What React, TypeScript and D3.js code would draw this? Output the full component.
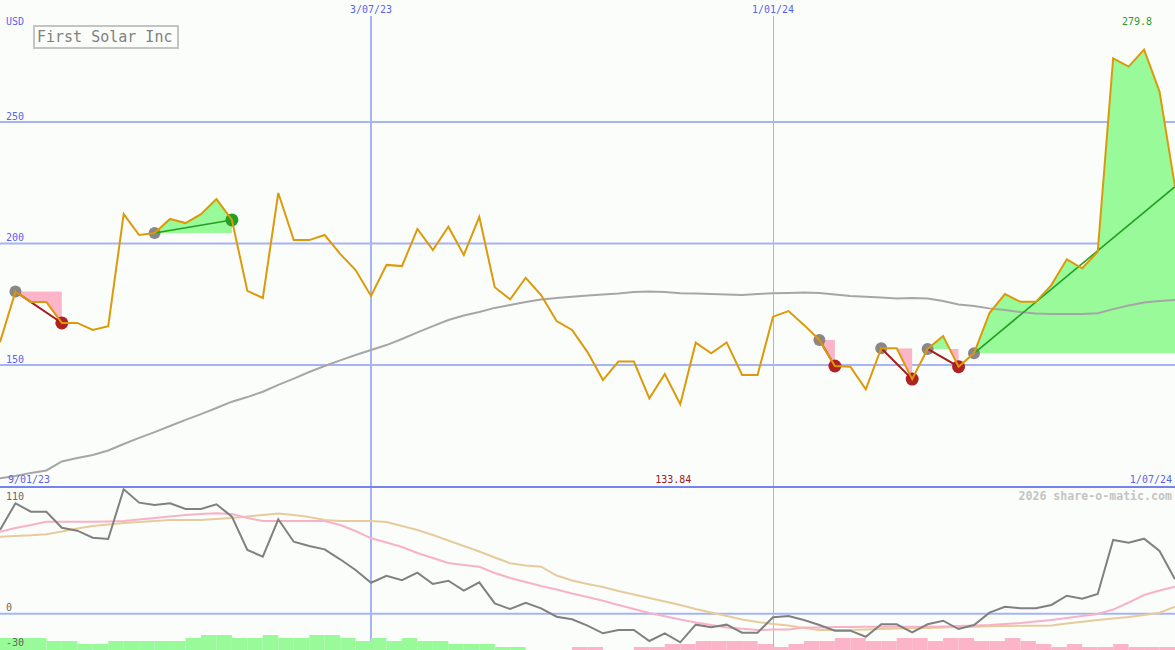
import React from 'react';
import * as d3 from 'd3';

const W = 1175;
const H = 650;

// weekly closing prices (USD)
const priceValues = [
  159.4, 180.2, 175.9, 175.9, 167.3, 167.3, 164.4, 166.0, 212.1, 203.5,
  204.3, 210.1, 208.4, 212.1, 218.3, 209.7, 180.5, 177.6, 220.8, 201.4,
  201.4, 203.5, 195.7, 189.1, 178.4, 191.2, 190.7, 206.0, 197.3, 206.9,
  195.3, 211.0, 182.0, 177.0, 185.9, 178.8, 168.1, 164.4, 155.3, 143.8,
  151.4, 151.4, 136.3, 146.3, 133.84, 159.2, 154.8, 159.3, 145.9, 145.9,
  169.9, 172.2, 166.5, 160.3, 149.6, 149.3, 140.0, 156.9, 156.9, 144.2,
  156.6, 161.9, 149.3, 154.8, 171.4, 179.2, 176.0, 176.0, 182.9, 193.5,
  189.8, 196.6, 276.2, 272.8, 279.8, 262.5, 223.4,
];

// long moving average
const movingAverage = [
  103.4, 104.3, 105.6, 106.6, 110.3, 111.7, 113.0, 114.8, 117.5, 120.0,
  122.4, 124.9, 127.4, 129.8, 132.3, 134.9, 136.8, 139.0, 141.8, 144.4,
  147.1, 149.6, 151.9, 154.1, 156.2, 158.2, 160.7, 163.4, 166.0, 168.5,
  170.4, 171.8, 173.5, 174.7, 175.9, 177.0, 177.6, 178.1, 178.6, 179.0,
  179.4, 180.0, 180.2, 180.0, 179.5, 179.4, 179.2, 179.0, 178.8, 179.2,
  179.5, 179.6, 179.8, 179.6, 179.0, 178.4, 178.1, 177.8, 177.4, 177.6,
  177.4, 176.3, 174.9, 174.3, 173.3, 172.6, 171.8, 171.2, 171.0, 171.0,
  171.0, 171.3, 173.0, 174.5, 175.7, 176.3, 176.7,
];

// oscillator (lower panel)
const momentum = [
  82.5, 108.8, 100.5, 100.5, 84.7, 81.8, 74.9, 73.6, 122.6, 109.4,
  107.1, 108.8, 103.2, 103.2, 107.8, 95.6, 62.8, 56.2, 93.0, 70.9,
  66.7, 63.4, 53.6, 43.1, 30.5, 37.4, 33.0, 40.4, 29.3, 32.5,
  22.7, 30.9, 10.2, 4.6, 10.8, 5.3, -3.0, -5.5, -11.8, -19.3,
  -16.1, -16.1, -26.9, -19.3, -28.2, -10.8, -13.4, -10.8, -18.7, -18.7,
  -3.5, -2.3, -6.2, -11.1, -16.7, -16.7, -22.7, -10.4, -10.4, -18.3,
  -10.4, -6.9, -15.1, -11.1, 1.0, 6.9, 5.3, 5.3, 8.6, 17.7,
  14.8, 19.4, 72.6, 70.0, 73.9, 61.8, 33.9,
];

const fastAverage = [
  80.8, 84.4, 87.4, 90.6, 90.6, 90.6, 90.6, 90.8, 91.3, 92.8,
  94.3, 95.8, 97.2, 98.2, 98.9, 98.2, 94.3, 91.3, 91.3, 91.3,
  91.3, 91.3, 87.4, 81.5, 74.3, 70.1, 65.7, 59.8, 54.9, 50.0,
  48.0, 46.3, 40.1, 35.2, 31.2, 27.3, 23.8, 19.9, 16.5, 12.8,
  8.6, 4.6, 0.7, -2.6, -5.7, -8.7, -11.1, -13.6, -14.8, -16.1,
  -15.6, -15.6, -13.6, -13.6, -13.1, -13.1, -12.8, -12.8, -12.8, -12.8,
  -12.8, -12.6, -12.1, -11.6, -11.1, -10.1, -9.2, -7.7, -6.2, -4.2,
  -2.3, -0.3, 4.1, 11.0, 18.4, 22.9, 26.6,
];

const slowAverage = [
  75.9, 76.6, 77.2, 78.2, 81.0, 83.9, 86.4, 87.9, 89.4, 90.3,
  91.3, 92.3, 92.3, 92.3, 93.3, 94.3, 95.8, 97.2, 98.7, 97.2,
  95.3, 92.3, 91.3, 91.3, 91.3, 90.3, 86.4, 82.5, 77.5, 72.1,
  66.7, 61.3, 55.4, 49.7, 47.5, 46.3, 37.6, 32.7, 29.3, 26.3,
  22.4, 18.9, 15.5, 12.0, 8.6, 4.6, 1.2, -2.3, -5.7, -8.2,
  -10.1, -11.6, -14.1, -16.1, -16.1, -16.1, -15.6, -15.1, -14.6, -14.4,
  -14.1, -13.6, -13.1, -12.8, -12.4, -12.1, -11.9, -11.8, -11.6, -9.7,
  -7.9, -6.2, -4.7, -3.3, -1.3, 1.0, 6.9,
];

// histogram per weekly interval (positive green, negative pink)
const histogram = [
  4, 4, 4, 3, 3, 2, 2, 3, 3, 3,
  3, 3, 4, 5, 5, 4, 4, 5, 4, 4,
  5, 5, 4, 3, 4, 3, 4, 3, 3, 2,
  2, 2, 1, 1, 0, 0, 0, -1, -1, 0,
  0, -1, -1, -2, -2, -3, -3, -3, -3, -2,
  -1, -2, -3, -3, -4, -4, -3, -3, -4, -4,
  -3, -4, -4, -3, -3, -4, -3, -2, -1, -2,
  -1, -1, -2, -1, -1, -1,
];

const topTickIndex = [24, 50];
const topTickLabels = ['3/07/23', '1/01/24'];
const priceTicks = [250, 200, 150];
const indicatorTicks = [110, 0, -30];
const startLabel = '9/01/23';
const endLabel = '1/07/24';
const title = 'First Solar Inc';
const currency = 'USD';
const credit = '2026 share-o-matic.com';

const signalStarts = [1, 10, 53, 57, 60, 63];
const signalEnds = [4, 15, 54, 59, 62, 76];
const signalKinds = ['sell', 'buy', 'sell', 'sell', 'sell', 'open'];

const FONT = '"DejaVu Sans Mono", monospace';
const BLUE_TXT = '#5565ee';
const GRID = '#a6b4f2';

export default function App() {
  const n = priceValues.length;
  const x = d3.scaleLinear().domain([0, n - 1]).range([0, W]);
  const y = d3.scaleLinear().domain([100, 300]).range([486.5, 0.5]);
  const yi = d3.scaleLinear().domain([-30, 110]).range([644.15, 502.05]);
  const yh = d3.scaleLinear().domain([0, 5]).range([650, 635]);

  const priceLine = d3.line<number>().x((_, i) => x(i)).y((d) => y(d));
  const indLine = d3.line<number>().x((_, i) => x(i)).y((d) => yi(d));

  const maxIdx = d3.maxIndex(priceValues);
  const minIdx = d3.minIndex(priceValues);

  const signals = signalStarts.map((s, k) => ({ start: s, end: signalEnds[k], kind: signalKinds[k] }));

  return (
    <svg
      width={W}
      height={H}
      style={{ position: 'absolute', left: 0, top: 0, display: 'block' }}
      fontFamily={FONT}
    >
      <defs>
        <clipPath id="mainClip">
          <rect x={0} y={0} width={W} height={486} />
        </clipPath>
        <clipPath id="indClip">
          <rect x={0} y={488} width={W} height={H - 488} />
        </clipPath>
        {signals.map((s, k) => {
          const base = y(priceValues[s.start]);
          return (
            <React.Fragment key={k}>
              <clipPath id={`above${k}`}>
                <rect x={0} y={0} width={W} height={base} />
              </clipPath>
              <clipPath id={`below${k}`}>
                <rect x={0} y={base} width={W} height={486 - base} />
              </clipPath>
            </React.Fragment>
          );
        })}
      </defs>
      <rect x={0} y={0} width={W} height={H} fill="#fbfdfb" />

      {/* horizontal price grid */}
      {priceTicks.map((t) => (
        <g key={t}>
          <line x1={0} x2={W} y1={y(t)} y2={y(t)} stroke={GRID} strokeWidth={2} />
          <text x={6} y={y(t) - 2.5} fontSize={10} fill={BLUE_TXT}>{t}</text>
        </g>
      ))}

      {/* vertical date grid */}
      {topTickIndex.map((ti, k) => (
        <g key={ti}>
          <line
            x1={Math.round(x(ti)) + (k === 0 ? 0 : 0.5)}
            x2={Math.round(x(ti)) + (k === 0 ? 0 : 0.5)}
            y1={16}
            y2={H}
            stroke={GRID}
            strokeWidth={k === 0 ? 2 : 1}
          />
          <text x={x(ti)} y={12.5} fontSize={10} fill={BLUE_TXT} textAnchor="middle">
            {topTickLabels[k]}
          </text>
        </g>
      ))}

      {/* signal fills */}
      <g clipPath="url(#mainClip)">
        {signals.map((s, k) => {
          const base = y(priceValues[s.start]);
          const idx = d3.range(s.start, s.end + 1);
          const area = d3
            .area<number>()
            .x((i) => x(i))
            .y0(base)
            .y1((i) => y(priceValues[i]));
          const dPath = area(idx) || '';
          return (
            <g key={k}>
              <g clipPath={`url(#above${k})`}>
                <path d={dPath} fill="#98fa98" />
              </g>
              <g clipPath={`url(#below${k})`}>
                <path d={dPath} fill="#fcb4c8" />
              </g>
            </g>
          );
        })}
      </g>

      {/* moving average */}
      <path
        d={priceLine(movingAverage) || ''}
        fill="none"
        stroke="#a6a6a6"
        strokeWidth={2}
        clipPath="url(#mainClip)"
      />

      {/* signal dots and connectors */}
      {signals.map((s, k) => {
        const x0 = x(s.start);
        const y0 = y(priceValues[s.start]);
        const x1 = x(s.end);
        const y1 = y(priceValues[s.end]);
        const col = s.kind === 'sell' ? '#a51c1c' : '#22a022';
        return (
          <g key={k}>
            <circle cx={x0} cy={y0} r={6} fill="#888888" />
            {s.kind !== 'open' && (
              <circle cx={x1} cy={y1} r={6.5} fill={s.kind === 'sell' ? '#b02222' : '#22a022'} />
            )}
            <line x1={x0} y1={y0} x2={x1} y2={y1} stroke={col} strokeWidth={s.kind === 'sell' ? 2 : 1.6} />
          </g>
        );
      })}

      {/* price line */}
      <path
        d={priceLine(priceValues) || ''}
        fill="none"
        stroke="#dc9a0a"
        strokeWidth={2}
        strokeLinejoin="miter"
        clipPath="url(#mainClip)"
      />

      {/* title */}
      <rect x={34} y={26} width={144} height={22} fill="#fbfdfb" stroke="#c4c4c4" strokeWidth={2} />
      <text x={37} y={41.5} fontSize={15} fill="#808080">{title}</text>
      <text x={6} y={24.5} fontSize={10} fill={BLUE_TXT}>{currency}</text>

      {/* extremes */}
      <text x={x(maxIdx) - 7} y={24.5} fontSize={10} fill="#2a9a2a" textAnchor="middle">
        {String(priceValues[maxIdx])}
      </text>
      <text x={x(minIdx) - 7} y={482.5} fontSize={10} fill="#a01818" textAnchor="middle">
        {String(priceValues[minIdx])}
      </text>
      <text x={8} y={482.5} fontSize={10} fill={BLUE_TXT}>{startLabel}</text>
      <text x={W - 3} y={482.5} fontSize={10} fill={BLUE_TXT} textAnchor="end">{endLabel}</text>

      {/* separator */}
      <line x1={0} x2={W} y1={487} y2={487} stroke="#7484ec" strokeWidth={2} />

      {/* indicator panel */}
      <line x1={0} x2={W} y1={yi(0)} y2={yi(0)} stroke={GRID} strokeWidth={2} />
      <g clipPath="url(#indClip)">
        {histogram.map((v, i) => (
          <rect
            key={i}
            x={x(i)}
            width={x(i + 1) - x(i)}
            y={yh(Math.abs(v))}
            height={yh(0) - yh(Math.abs(v))}
            fill={v >= 0 ? '#98fa98' : '#fcb4c8'}
          />
        ))}
        <path d={indLine(slowAverage) || ''} fill="none" stroke="#e6cc9c" strokeWidth={2} />
        <path d={indLine(fastAverage) || ''} fill="none" stroke="#f8b2c8" strokeWidth={2} />
        <path d={indLine(momentum) || ''} fill="none" stroke="#808080" strokeWidth={2} />
      </g>
      {indicatorTicks.map((t) => (
        <text key={t} x={6} y={t === 110 ? 499.5 : t === 0 ? 611 : 646} fontSize={10} fill="#666666">
          {t}
        </text>
      ))}
      <text x={W - 3} y={500} fontSize={11.6} fontWeight="bold" fill="#c4c4c4" textAnchor="end">
        {credit}
      </text>
    </svg>
  );
}
